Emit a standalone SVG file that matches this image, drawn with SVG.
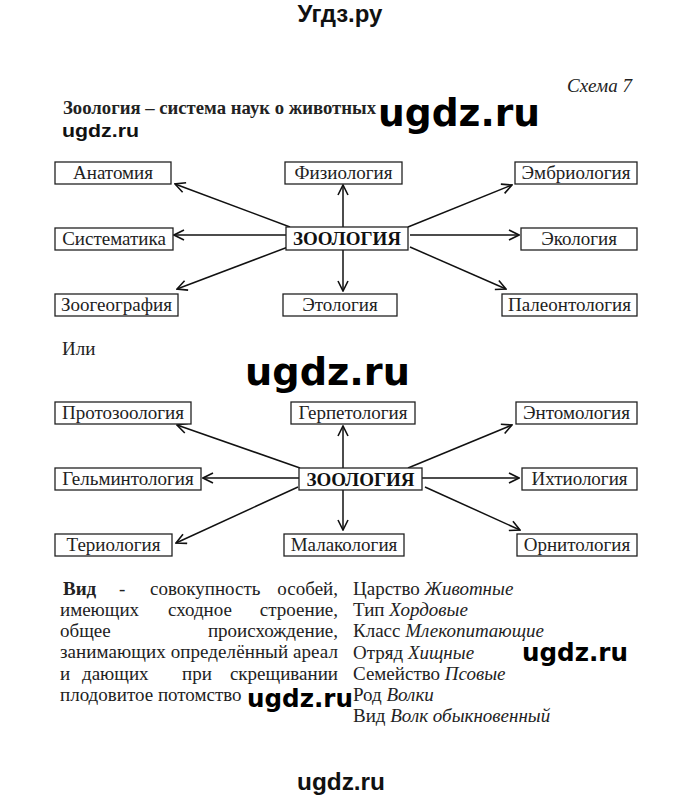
<svg xmlns="http://www.w3.org/2000/svg" width="680" height="801" viewBox="0 0 680 801">
<defs>
<marker id="ah" viewBox="0 0 12 12" refX="11" refY="6" markerWidth="12" markerHeight="12" markerUnits="userSpaceOnUse" orient="auto">
<path d="M1,1 L11,6 L1,11" fill="none" stroke="#111" stroke-width="1.6"/>
</marker>
<style>
.box{fill:#fff;stroke:#222;stroke-width:1.3}
.t{font-family:"Liberation Serif","Times New Roman",serif;font-size:19px;fill:#222}
.c{text-anchor:middle}
.z{font-family:"Liberation Serif","Times New Roman",serif;font-size:19px;font-weight:bold;fill:#111;text-anchor:middle}
.i{font-style:italic}
.e{text-anchor:end}
.ln{stroke:#111;stroke-width:1.5;fill:none;marker-end:url(#ah)}
.wm{font-family:"DejaVu Sans",sans-serif;font-weight:bold;fill:#000}
.wa{font-family:"Liberation Sans",Arial,sans-serif;font-weight:bold;fill:#111}
</style>
</defs>
<rect width="680" height="801" fill="#fff"/>

<text class="wa" x="340" y="22" font-size="24" text-anchor="middle">Угдз.ру</text>
<text class="t i" x="567" y="92" font-size="17">Схема 7</text>
<text class="t" x="63" y="114" font-weight="bold" textLength="313" lengthAdjust="spacingAndGlyphs">Зоология – система наук о животных</text>
<text class="wa" x="62" y="137" font-size="19" textLength="77" lengthAdjust="spacingAndGlyphs">ugdz.ru</text>
<text class="wm" x="378" y="126" font-size="37" textLength="162" lengthAdjust="spacingAndGlyphs">ugdz.ru</text>

<g id="connectors1">
<line class="ln" x1="290" y1="227" x2="175" y2="184"/>
<line class="ln" x1="343" y1="228" x2="343" y2="185"/>
<line class="ln" x1="286" y1="235" x2="174" y2="235"/>
<line class="ln" x1="288" y1="247" x2="177" y2="289"/>
<line class="ln" x1="343" y1="250" x2="343" y2="291"/>
<line class="ln" x1="408" y1="227" x2="512" y2="185"/>
<line class="ln" x1="410" y1="235" x2="519" y2="235"/>
<line class="ln" x1="410" y1="247" x2="506" y2="289"/>
</g>

<g id="n-anatomiya"><rect class="box" x="55" y="162" width="116" height="22"/><text class="t c" x="113" y="179">Анатомия</text></g>
<g id="n-fiziologiya"><rect class="box" x="285" y="162" width="117" height="22"/><text class="t c" x="343.5" y="179">Физиология</text></g>
<g id="n-embriologiya"><rect class="box" x="515" y="162" width="122" height="22"/><text class="t c" x="576" y="179">Эмбриология</text></g>
<g id="n-sistematika"><rect class="box" x="55" y="228" width="118" height="22"/><text class="t c" x="114" y="245">Систематика</text></g>
<g id="n-zoologiya1"><rect class="box" x="286" y="227" width="122" height="23"/><text class="z" x="347" y="245">ЗООЛОГИЯ</text></g>
<g id="n-ekologiya"><rect class="box" x="521" y="228" width="116" height="22"/><text class="t c" x="579" y="245">Экология</text></g>
<g id="n-zoogeografiya"><rect class="box" x="55" y="294" width="123" height="22"/><text class="t c" x="116.5" y="311">Зоогеография</text></g>
<g id="n-etologiya"><rect class="box" x="283" y="294" width="114" height="22"/><text class="t c" x="340" y="311">Этология</text></g>
<g id="n-paleontologiya"><rect class="box" x="502" y="294" width="135" height="22"/><text class="t c" x="569.5" y="311">Палеонтология</text></g>

<text class="t" x="62" y="355" font-size="17">Или</text>
<text class="wm" x="245" y="385" font-size="37" textLength="165" lengthAdjust="spacingAndGlyphs">ugdz.ru</text>

<g id="connectors2">
<line class="ln" x1="300" y1="468" x2="177" y2="425"/>
<line class="ln" x1="343" y1="468" x2="343" y2="426"/>
<line class="ln" x1="299" y1="478" x2="203" y2="478"/>
<line class="ln" x1="298" y1="487" x2="176" y2="543"/>
<line class="ln" x1="343" y1="490" x2="343" y2="530"/>
<line class="ln" x1="408" y1="468" x2="512" y2="425"/>
<line class="ln" x1="422" y1="478" x2="519" y2="478"/>
<line class="ln" x1="425" y1="487" x2="520" y2="530"/>
</g>

<g id="n-protozoologiya"><rect class="box" x="55" y="402" width="136" height="22"/><text class="t c" x="123" y="419">Протозоология</text></g>
<g id="n-gerpetologiya"><rect class="box" x="291" y="402" width="124" height="22"/><text class="t c" x="353" y="419">Герпетология</text></g>
<g id="n-entomologiya"><rect class="box" x="516" y="402" width="121" height="22"/><text class="t c" x="576.5" y="419">Энтомология</text></g>
<g id="n-gelmintologiya"><rect class="box" x="55" y="468" width="146" height="22"/><text class="t c" x="128" y="485">Гельминтология</text></g>
<g id="n-zoologiya2"><rect class="box" x="299" y="468" width="123" height="22"/><text class="z" x="360.5" y="486">ЗООЛОГИЯ</text></g>
<g id="n-ihtiologiya"><rect class="box" x="522" y="468" width="115" height="22"/><text class="t c" x="579.5" y="485">Ихтиология</text></g>
<g id="n-teriologiya"><rect class="box" x="55" y="534" width="117" height="22"/><text class="t c" x="113.5" y="551">Териология</text></g>
<g id="n-malakologiya"><rect class="box" x="284" y="534" width="120" height="22"/><text class="t c" x="344" y="551">Малакология</text></g>
<g id="n-ornitologiya"><rect class="box" x="517" y="534" width="120" height="22"/><text class="t c" x="577" y="551">Орнитология</text></g>

<g id="definition">
<text class="t" x="63" y="595" font-weight="bold">Вид</text>
<text class="t" x="119" y="595">-</text>
<text class="t" x="150" y="595">совокупность</text>
<text class="t e" x="338" y="595">особей,</text>
<text class="t" x="60" y="616">имеющих</text>
<text class="t" x="168" y="616">сходное</text>
<text class="t e" x="338" y="616">строение,</text>
<text class="t" x="60" y="637">общее</text>
<text class="t e" x="338" y="637">происхождение,</text>
<text class="t" x="60" y="658" textLength="278">занимающих определённый ареал</text>
<text class="t" x="60" y="680">и</text>
<text class="t" x="82" y="680">дающих</text>
<text class="t" x="182" y="680">при</text>
<text class="t e" x="338" y="680">скрещивании</text>
<text class="t" x="60" y="701">плодовитое потомство</text>
</g>

<g id="taxonomy">
<text class="t" x="353" y="595">Царство <tspan class="i">Животные</tspan></text>
<text class="t" x="353" y="616">Тип <tspan class="i">Хордовые</tspan></text>
<text class="t" x="353" y="637">Класс <tspan class="i">Млекопитающие</tspan></text>
<text class="t" x="353" y="659">Отряд <tspan class="i">Хищные</tspan></text>
<text class="t" x="353" y="680">Семейство <tspan class="i">Псовые</tspan></text>
<text class="t" x="353" y="701">Род <tspan class="i">Волки</tspan></text>
<text class="t" x="353" y="722">Вид <tspan class="i">Волк обыкновенный</tspan></text>
</g>

<text class="wm" x="522" y="661" font-size="25" textLength="106" lengthAdjust="spacingAndGlyphs">ugdz.ru</text>
<text class="wm" x="247" y="707" font-size="25" textLength="106" lengthAdjust="spacingAndGlyphs">ugdz.ru</text>
<text class="wa" x="297" y="790" font-size="24" textLength="88" lengthAdjust="spacingAndGlyphs">ugdz.ru</text>
</svg>
